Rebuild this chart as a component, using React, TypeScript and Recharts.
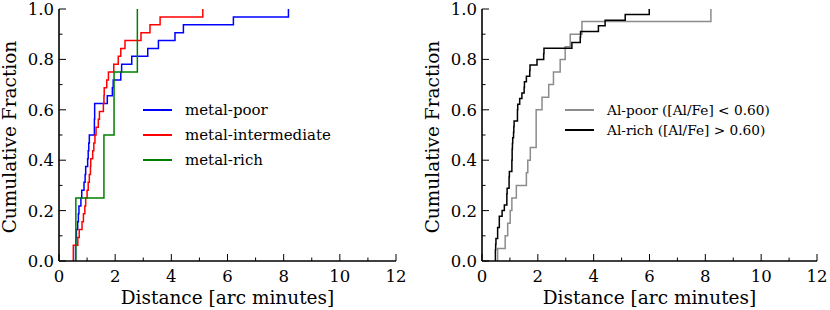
import React from 'react';
import { LineChart, Line, XAxis, YAxis, Legend } from 'recharts';

// sorted distances (arc minutes), one entry per star
const metalPoor = [
  0.59, 0.59, 0.6, 0.62, 0.665, 0.69, 0.71, 0.78, 0.81, 0.89, 0.93, 0.95, 1.02, 1.04, 1.06, 1.08,
  1.26, 1.26, 1.27, 1.27, 1.72, 1.9, 1.93, 2.2, 2.23, 2.59, 3.16, 3.54, 4.13, 4.43, 6.21, 8.17,
];
const metalIntermediate = [
  0.51, 0.51, 0.67, 0.72, 0.82, 0.87, 0.92, 0.95, 1.0, 1.04, 1.08, 1.12, 1.13, 1.2, 1.24, 1.28,
  1.32, 1.4, 1.44, 1.58, 1.6, 1.61, 1.7, 1.76, 1.95, 2.11, 2.2, 2.35, 2.92, 3.24, 3.6, 5.12,
];
const metalRich = [0.6, 1.6, 1.96, 2.79];

const alPoor = [
  0.56, 0.83, 0.92, 1.01, 1.07, 1.23, 1.59, 1.64, 1.73, 1.94, 1.94, 1.94, 2.15, 2.39, 2.56, 2.8,
  2.98, 3.16, 3.58, 8.2,
];
const alRich = [
  0.48, 0.48, 0.49, 0.5, 0.56, 0.56, 0.62, 0.62, 0.72, 0.8, 0.89, 0.89, 0.9, 0.97, 0.97, 0.98,
  1.07, 1.07, 1.08, 1.08, 1.09, 1.1, 1.13, 1.14, 1.15, 1.27, 1.27, 1.28, 1.35, 1.43, 1.51, 1.52,
  1.59, 1.71, 1.72, 1.97, 2.21, 2.22, 3.22, 3.52, 3.53, 4.17, 4.41, 5.13, 5.99,
];

const xTicks = [0, 1, 2, 3, 4, 5, 6, 7, 8, 9, 10, 11, 12];
const yTicks = [0, 0.1, 0.2, 0.3, 0.4, 0.5, 0.6, 0.7, 0.8, 0.9, 1.0];

const FONT = '"DejaVu Serif", serif';
const TICK_FS = 16.5;
const LABEL_FS = 18.5;

// empirical cumulative distribution: starts at 0 on the first star
const cdf = (d: number[]) => [
  { x: d[0], y: 0 },
  ...d.map((x, i) => ({ x, y: (i + 1) / d.length })),
];

const isMajorX = (v: number) => v % 2 === 0;
const isMajorY = (v: number) => Math.round(v * 10) % 2 === 0;

const BottomTick = (props: any) => {
  const { x, y, payload } = props;
  const major = isMajorX(payload.value);
  return (
    <g>
      <line x1={x} x2={x} y1={y - 9} y2={y - 9 - (major ? 7 : 3.5)} stroke="#000" strokeWidth={1} />
      {major && (
        <text x={x} y={y} dy="0.72em" textAnchor="middle" fontFamily={FONT} fontSize={TICK_FS} fill="#000">
          {payload.value}
        </text>
      )}
    </g>
  );
};

const TopTick = (props: any) => {
  const { x, y, payload } = props;
  const major = isMajorX(payload.value);
  return <line x1={x} x2={x} y1={y} y2={y + (major ? 7 : 3.5)} stroke="#000" strokeWidth={1} />;
};

const LeftTick = (props: any) => {
  const { x, y, payload } = props;
  const major = isMajorY(payload.value);
  return (
    <g>
      <line x1={x + 5} x2={x + 5 + (major ? 7 : 3.5)} y1={y} y2={y} stroke="#000" strokeWidth={1} />
      {major && (
        <text x={x} y={y} dy="0.36em" textAnchor="end" fontFamily={FONT} fontSize={TICK_FS} fill="#000">
          {payload.value.toFixed(1)}
        </text>
      )}
    </g>
  );
};

const RightTick = (props: any) => {
  const { x, y, payload } = props;
  const major = isMajorY(payload.value);
  return <line x1={x} x2={x - (major ? 7 : 3.5)} y1={y} y2={y} stroke="#000" strokeWidth={1} />;
};

type Series = { name: string; color: string; dist: number[] };

function Panel({
  series,
  yAxisWidth,
  right,
  labelX,
  legendLeft,
  legendTop,
  legendGap,
  legendFs,
}: {
  series: Series[];
  yAxisWidth: number;
  right: number;
  labelX: number;
  legendLeft: number;
  legendTop: number;
  legendGap: number;
  legendFs: number;
}) {
  const plotLeft = yAxisWidth;
  const plotRight = 415 - right;
  return (
    <LineChart width={415} height={310} margin={{ top: 9, right, bottom: 0, left: 0 }}>
      <XAxis
        xAxisId="b"
        type="number"
        dataKey="x"
        domain={[0, 12]}
        ticks={xTicks}
        allowDataOverflow
        height={49}
        tickSize={0}
        tickMargin={9}
        tick={<BottomTick />}
        axisLine={{ stroke: '#000', strokeWidth: 1.6 }}
        tickLine={false}
        label={{
          content: () => (
            <text x={(plotLeft + plotRight) / 2} y={304} textAnchor="middle" fontFamily={FONT} fontSize={LABEL_FS} fill="#000">
              Distance [arc minutes]
            </text>
          ),
        }}
      />
      <XAxis
        xAxisId="t"
        orientation="top"
        type="number"
        dataKey="x"
        domain={[0, 12]}
        ticks={xTicks}
        allowDataOverflow
        height={0}
        tickSize={0}
        tickMargin={0}
        tick={<TopTick />}
        axisLine={{ stroke: '#000', strokeWidth: 1.6 }}
        tickLine={false}
      />
      <YAxis
        yAxisId="l"
        type="number"
        domain={[0, 1]}
        ticks={yTicks}
        allowDataOverflow
        width={yAxisWidth}
        tickSize={0}
        tickMargin={5}
        tick={<LeftTick />}
        axisLine={{ stroke: '#000', strokeWidth: 1.6 }}
        tickLine={false}
        label={{
          content: () => (
            <text
              transform={`translate(${labelX},137) rotate(-90)`}
              textAnchor="middle"
              fontFamily={FONT}
              fontSize={LABEL_FS}
              fill="#000"
            >
              Cumulative Fraction
            </text>
          ),
        }}
      />
      <YAxis
        yAxisId="r"
        orientation="right"
        type="number"
        domain={[0, 1]}
        ticks={yTicks}
        allowDataOverflow
        width={0}
        tickSize={0}
        tickMargin={0}
        tick={<RightTick />}
        axisLine={{ stroke: '#000', strokeWidth: 1.6 }}
        tickLine={false}
      />
      {series.map((s) => (
        <Line
          key={s.name}
          xAxisId="b"
          yAxisId="l"
          data={cdf(s.dist)}
          dataKey="y"
          name={s.name}
          type="stepAfter"
          stroke={s.color}
          strokeWidth={1.5}
          dot={false}
          activeDot={false}
          isAnimationActive={false}
        />
      ))}
      <Legend
        layout="vertical"
        align="center"
        verticalAlign="middle"
        wrapperStyle={{ position: 'absolute', left: legendLeft, top: legendTop, width: 'auto' }}
        content={() => (
          <div style={{ fontFamily: FONT, fontSize: legendFs, color: '#000' }}>
            {series.map((s) => (
              <div key={s.name} style={{ display: 'flex', alignItems: 'center', height: legendGap }}>
                <div style={{ width: 29, height: 2, background: s.color, marginRight: 13, flex: 'none' }} />
                <span style={{ whiteSpace: 'nowrap' }}>{s.name}</span>
              </div>
            ))}
          </div>
        )}
      />
    </LineChart>
  );
}

const leftSeries: Series[] = [
  { name: 'metal-poor', color: '#0000ff', dist: metalPoor },
  { name: 'metal-intermediate', color: '#ff0000', dist: metalIntermediate },
  { name: 'metal-rich', color: '#008000', dist: metalRich },
];
const rightSeries: Series[] = [
  { name: 'Al-poor ([Al/Fe] < 0.60)', color: '#8c8c8c', dist: alPoor },
  { name: 'Al-rich ([Al/Fe] > 0.60)', color: '#000000', dist: alRich },
];

export default function App() {
  return (
    <div style={{ position: 'absolute', left: 0, top: 0, width: 830, height: 310, background: '#fff', display: 'flex' }}>
      <Panel series={leftSeries} yAxisWidth={59} right={19} labelX={16} legendLeft={143} legendTop={97} legendGap={25} legendFs={15} />
      <Panel series={rightSeries} yAxisWidth={67} right={13} labelX={24} legendLeft={150} legendTop={100} legendGap={20} legendFs={13.7} />
    </div>
  );
}
